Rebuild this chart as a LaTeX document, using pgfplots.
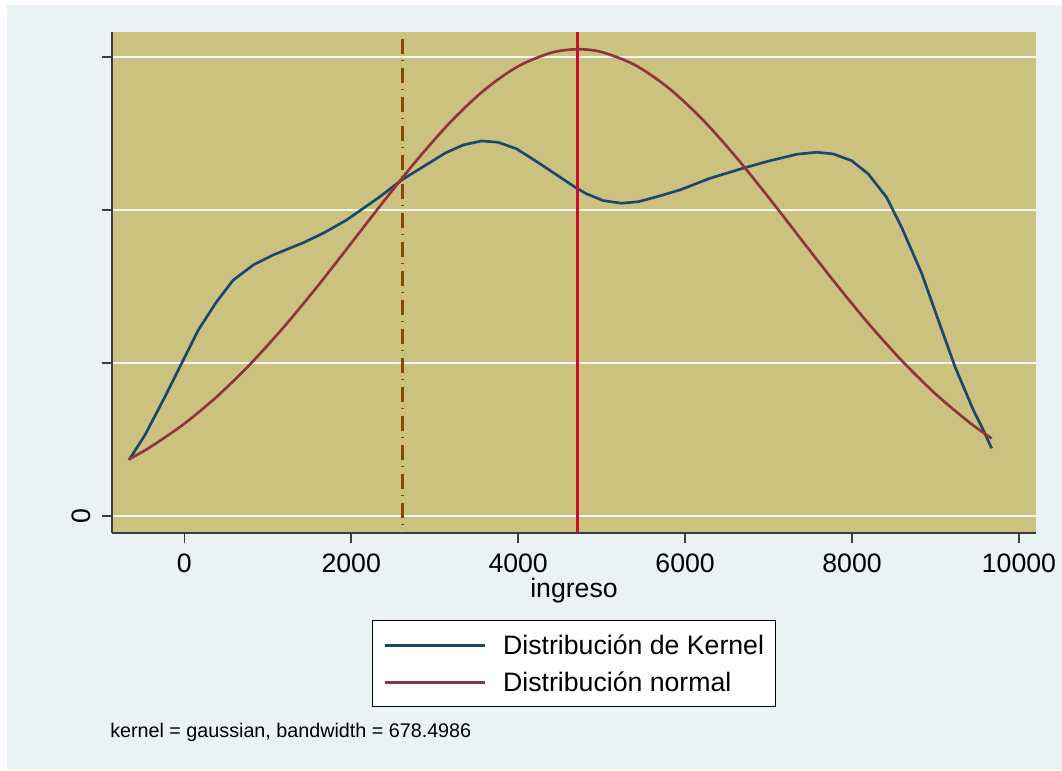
\documentclass[border=0pt]{standalone}
\usepackage{pgfplots}
\pgfplotsset{compat=1.18}
\usepackage{fontspec}
\setmainfont{Liberation Sans}
\definecolor{bgblue}{RGB}{234,242,243}
\definecolor{khaki}{RGB}{203,194,128}
\definecolor{kernblue}{RGB}{26,71,111}
\definecolor{normred}{RGB}{144,53,59}
\definecolor{meanred}{RGB}{200,16,46}
\definecolor{medbrown}{RGB}{138,72,0}
\definecolor{axisgray}{RGB}{60,60,60}
\definecolor{gridwhite}{RGB}{244,246,246}
\begin{document}
\begin{tikzpicture}
\fill[white] (0,0) rectangle (796.5pt,577.5pt);
\fill[bgblue] (5.25pt,0) rectangle (796.5pt,573.75pt);
\begin{axis}[
  at={(84pt,177.75pt)}, anchor=south west,
  scale only axis, width=693pt, height=375.75pt,
  xmin=-866, xmax=10204, ymin=-0.111, ymax=3.163,
  axis background/.style={fill=khaki},
  axis x line*=bottom, axis y line*=left,
  axis line style={line width=1.4pt, color=axisgray},
  xtick={0,2000,4000,6000,8000,10000},
  ytick={0,1,2,3}, yticklabels={0,{},{},{}},
  scaled x ticks=false,
  tick align=outside, major tick length=7.5pt,
  every tick/.style={line width=1.1pt, color=axisgray},
  ymajorgrids, grid style={line width=2pt, color=gridwhite},
  tick label style={font=\fontsize{20pt}{24pt}\selectfont, text=black},
  xticklabel style={yshift=-5pt},
  yticklabel style={rotate=90, anchor=south, yshift=5.25pt},
  /pgf/number format/assume math mode=true,
  /pgf/number format/set thousands separator={},
  xlabel={ingreso},
  xlabel style={font=\fontsize{20pt}{24pt}\selectfont, at={(axis description cs:0.5,-0.1297)}, anchor=base},
  legend style={at={(0.5,-0.1737)}, anchor=north, draw=black, line width=0.8pt, fill=white,
    font=\fontsize{20pt}{24pt}\selectfont, inner xsep=8.8pt, inner ysep=8.25pt,
    nodes={inner sep=0pt, text height=17.4pt, text depth=3pt},
    row sep=7.35pt,
    /tikz/every odd column/.append style={column sep=12.2pt},
    /tikz/every even column/.append style={column sep=3pt}},
  legend cell align=left,
  legend image code/.code={\draw[#1, line width=2.2pt] (0pt,0pt) -- (75pt,0pt);},
]
\addplot[kernblue, line width=2pt] coordinates {
(-662,0.366) (-471,0.529) (-252,0.758) (-31,0.998) (168,1.216) (388,1.401) (587,1.542) (827,1.641) (1066,1.706) (1426,1.786) (1665,1.848) (1946,1.935) (2345,2.087) (2605,2.196) (2863,2.283) (3123,2.371) (3343,2.425) (3563,2.451) (3762,2.442) (3982,2.399) (4222,2.316) (4462,2.229) (4701,2.142) (4821,2.105) (5020,2.061) (5240,2.044) (5439,2.054) (5699,2.092) (5939,2.131) (6298,2.207) (6697,2.273) (6977,2.316) (7337,2.364) (7576,2.377) (7775,2.366) (7996,2.322) (8195,2.235) (8415,2.082) (8598,1.882) (8834,1.586) (9033,1.281) (9233,0.976) (9453,0.693) (9572,0.562) (9673,0.442)
};
\addlegendentry{Distribución de Kernel}
\addplot[normred, line width=2pt, smooth] coordinates {
(-662,0.371) (-400,0.453) (0,0.603) (400,0.785) (800,0.998) (1200,1.240) (1600,1.504) (2000,1.783) (2400,2.064) (2800,2.335) (3200,2.581) (3600,2.786) (4000,2.939) (4400,3.028) (4713,3.050) (5000,3.032) (5400,2.947) (5800,2.798) (6200,2.596) (6600,2.352) (7000,2.082) (7400,1.801) (7800,1.522) (8200,1.256) (8600,1.013) (9000,0.798) (9400,0.614) (9673,0.507)
};
\addlegendentry{Distribución normal}
\addplot[medbrown, line width=2pt, dash pattern=on 11.25pt off 4.5pt on 1.1pt off 4.9pt, forget plot] coordinates {(2616,3.12) (2616,-0.111)};
\addplot[meanred, line width=2pt, forget plot] coordinates {(4713,-0.111) (4713,3.163)};
\end{axis}
\node[anchor=base west, inner sep=0pt, font=\fontsize{14.8pt}{17pt}\selectfont] at (82.5pt,24.75pt) {kernel = gaussian, bandwidth = 678.4986};
\pgfresetboundingbox
\useasboundingbox (0,0) rectangle (796.5pt,577.5pt);
\end{tikzpicture}
\end{document}
